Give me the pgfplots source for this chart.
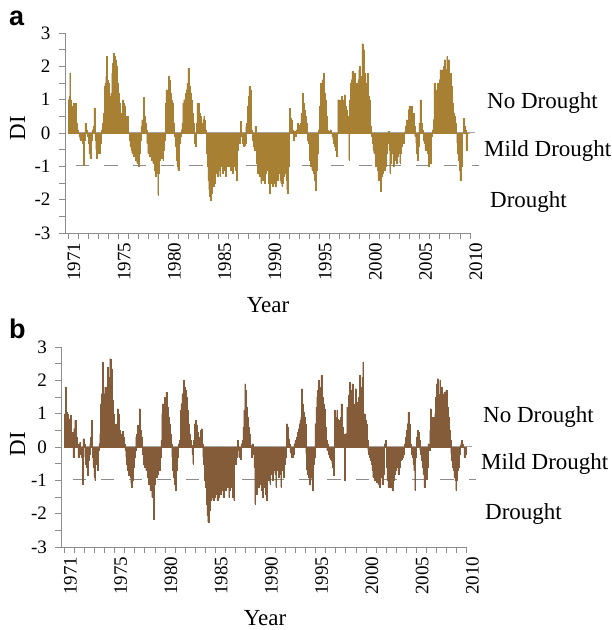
\documentclass[border=0pt]{standalone}
\usepackage{fontspec}
\setmainfont{Liberation Serif}
\newfontfamily\sansb{Liberation Sans}
\usepackage{pgfplots}
\pgfplotsset{compat=1.18}
\usepackage{pgfplotstable}

\definecolor{barA}{RGB}{136,98,26}
\definecolor{edgeA}{RGB}{168,128,52}
\definecolor{barB}{RGB}{100,60,27}
\definecolor{edgeB}{RGB}{132,92,58}
\definecolor{axgray}{RGB}{140,140,140}

% Panel a: monthly DI values, one line per year (12 months)
\pgfplotstableread[row sep=\\]{v\\
1.0\\ 1.1\\ 1.8\\ 1.0\\ 0.5\\ 0.8\\ 0.9\\ 0.4\\ 0.9\\ 0.6\\ 0.3\\ 0.1\\
0.0\\ -0.1\\ -0.2\\ -0.1\\ -0.2\\ -0.3\\ -0.97\\ -0.2\\ 0.3\\ 0.2\\ 0.1\\ -0.1\\
-0.3\\ -0.6\\ -0.75\\ -0.4\\ -0.2\\ 0.1\\ 0.2\\ 0.75\\ -0.2\\ -0.5\\ -0.75\\ -0.5\\
-0.6\\ -0.6\\ -0.3\\ -0.1\\ 0.1\\ 0.3\\ 0.6\\ 1.4\\ 1.5\\ 1.7\\ 2.3\\ 1.6\\
1.5\\ 1.1\\ 0.9\\ 1.2\\ 1.8\\ 2.1\\ 2.4\\ 2.3\\ 2.2\\ 1.5\\ 2.0\\ 1.5\\
1.2\\ 0.9\\ 0.6\\ 0.3\\ 0.5\\ 1.0\\ 0.9\\ 0.8\\ 0.5\\ 0.2\\ 0.3\\ 0.5\\
0.0\\ -0.2\\ -0.4\\ -0.5\\ -0.6\\ -0.4\\ -0.7\\ -0.5\\ -0.8\\ -0.6\\ -0.9\\ -0.7\\
-1.0\\ -0.6\\ -0.2\\ 0.2\\ 0.4\\ 0.3\\ 1.08\\ 0.5\\ 0.3\\ 0.1\\ -0.3\\ -0.6\\
-0.4\\ -0.7\\ -0.5\\ -0.8\\ -0.6\\ -0.9\\ -0.7\\ -1.1\\ -1.3\\ -0.9\\ -1.2\\ -1.85\\
-1.2\\ -0.8\\ -0.6\\ -0.75\\ -0.5\\ -0.8\\ -0.5\\ -0.2\\ 0.9\\ 1.3\\ 1.2\\ 1.0\\
1.7\\ 1.6\\ 1.2\\ 1.0\\ 0.9\\ 0.7\\ 0.3\\ -0.1\\ -0.4\\ -0.8\\ -1.0\\ -1.1\\
-0.8\\ -0.3\\ -0.1\\ 0.1\\ 0.3\\ 0.9\\ 1.0\\ 1.0\\ 1.2\\ 1.3\\ 1.5\\ 1.95\\
1.7\\ 1.4\\ 1.2\\ 1.0\\ 0.6\\ 0.3\\ 0.1\\ -0.3\\ -0.4\\ 0.3\\ 0.9\\ 0.9\\
0.9\\ 0.6\\ 0.5\\ 0.3\\ 0.2\\ 0.4\\ 0.5\\ 0.4\\ 0.1\\ -0.6\\ -1.0\\ -1.4\\
-1.7\\ -1.9\\ -2.0\\ -1.8\\ -1.5\\ -1.6\\ -1.3\\ -1.5\\ -1.2\\ -1.0\\ -1.3\\ -1.1\\
-1.1\\ -1.3\\ -0.8\\ -1.0\\ -1.2\\ -0.7\\ -1.1\\ -0.9\\ -1.3\\ -1.0\\ -0.6\\ -1.0\\
-0.9\\ -0.7\\ -1.1\\ -0.8\\ -1.2\\ -0.6\\ -1.0\\ -0.8\\ -1.1\\ -1.4\\ -0.5\\ -0.2\\
-0.3\\ 0.0\\ 0.35\\ -0.1\\ -0.3\\ -0.4\\ -0.35\\ -0.3\\ 0.2\\ 0.3\\ 0.8\\ 1.1\\
1.4\\ 1.3\\ 0.6\\ 0.1\\ -0.2\\ -0.4\\ -0.5\\ 0.2\\ -0.3\\ -0.9\\ -1.2\\ -1.0\\
-1.3\\ -0.9\\ -1.5\\ -1.1\\ -1.4\\ -1.2\\ -1.5\\ -1.0\\ -1.2\\ -0.9\\ -1.1\\ -1.5\\
-1.8\\ -1.3\\ -1.5\\ -1.1\\ -1.6\\ -1.2\\ -1.5\\ -1.6\\ -1.3\\ -1.1\\ -1.4\\ -1.2\\
-1.2\\ -1.4\\ -1.5\\ -1.6\\ -1.5\\ -1.3\\ -1.2\\ -1.1\\ -1.4\\ -1.7\\ -1.8\\ -1.0\\
0.75\\ 0.45\\ 0.4\\ 0.35\\ 0.1\\ -0.2\\ 0.05\\ -0.1\\ 0.1\\ 0.05\\ 0.3\\ 0.25\\
0.1\\ 0.3\\ 0.6\\ 0.5\\ 1.2\\ 0.9\\ 0.7\\ 0.5\\ 0.3\\ 0.1\\ -0.2\\ -0.3\\
-0.8\\ -1.0\\ -0.9\\ -1.1\\ -0.8\\ -1.2\\ -1.4\\ -1.7\\ -1.1\\ -0.6\\ -0.2\\ 0.1\\
0.8\\ 1.5\\ 1.2\\ 1.6\\ 1.3\\ 1.8\\ 1.2\\ 1.0\\ 0.5\\ 0.1\\ 0.0\\ 0.05\\
0.05\\ 0.1\\ 0.0\\ -0.1\\ -0.2\\ -0.3\\ -0.4\\ -0.5\\ -0.7\\ 0.0\\ 1.0\\ 0.8\\
1.0\\ 0.8\\ 1.1\\ 0.9\\ 0.85\\ 1.0\\ 1.15\\ 0.8\\ 0.7\\ 0.5\\ 0.3\\ -0.8\\
1.0\\ 1.5\\ 1.6\\ 1.85\\ 1.3\\ 1.5\\ 1.8\\ 1.3\\ 1.5\\ 1.4\\ 1.6\\ 1.9\\
2.0\\ 1.5\\ 1.7\\ 2.68\\ 1.6\\ 2.5\\ 1.8\\ 1.3\\ 1.5\\ 1.8\\ 1.1\\ 1.05\\
1.0\\ 0.2\\ -0.1\\ -0.3\\ -0.5\\ -0.6\\ -0.5\\ -1.0\\ -0.9\\ -1.1\\ -1.4\\ -1.3\\
-1.4\\ -1.75\\ -1.3\\ -1.2\\ -0.9\\ -1.1\\ -0.8\\ -1.0\\ -0.6\\ -0.3\\ 0.05\\ -0.5\\
-1.2\\ -0.9\\ -0.6\\ -0.5\\ -1.0\\ -0.8\\ -0.4\\ -0.5\\ -0.9\\ -0.7\\ -0.6\\ -0.4\\
-0.9\\ -0.6\\ -0.4\\ -0.2\\ -0.3\\ 0.0\\ 0.05\\ 0.2\\ 0.4\\ 0.3\\ 0.7\\ 0.8\\
0.4\\ 0.7\\ 0.8\\ 0.3\\ 0.6\\ 0.2\\ -0.1\\ -0.3\\ -0.6\\ -0.8\\ -0.4\\ 0.3\\
1.0\\ 0.6\\ 0.3\\ 0.1\\ -0.2\\ -0.3\\ -0.5\\ -0.3\\ -0.4\\ -0.6\\ -1.0\\ -0.8\\
-0.9\\ -0.8\\ -0.1\\ 0.1\\ 0.4\\ 1.5\\ 1.3\\ 1.2\\ 1.3\\ 1.5\\ 1.0\\ 1.6\\
1.9\\ 1.5\\ 1.6\\ 1.9\\ 2.0\\ 2.2\\ 1.6\\ 1.9\\ 2.3\\ 2.1\\ 2.2\\ 1.8\\
1.8\\ 1.4\\ 1.0\\ 0.9\\ 0.6\\ 0.5\\ 0.3\\ 0.0\\ -0.3\\ -0.6\\ -0.8\\ -1.1\\
-1.4\\ -1.0\\ -0.6\\ 0.0\\ 0.45\\ 0.2\\ 0.1\\ -0.5\\ -0.2\\ 0.0\\ 0.0\\ 0.0\\
}\dataA

% Panel b: monthly DI values, one line per year (12 months)
\pgfplotstableread[row sep=\\]{v\\
1.0\\ 1.8\\ 1.05\\ 1.0\\ 0.45\\ 0.4\\ 0.85\\ 0.95\\ 0.4\\ 0.45\\ -0.3\\ 0.55\\
0.8\\ 0.8\\ 0.3\\ 0.1\\ -0.3\\ 0.1\\ 0.15\\ -0.2\\ -0.3\\ -1.1\\ 0.25\\ 0.1\\
-0.3\\ -0.5\\ -0.6\\ -0.85\\ -0.4\\ -0.2\\ 0.1\\ 0.3\\ 0.8\\ -0.3\\ -0.6\\ -0.9\\
-1.0\\ -0.5\\ -0.4\\ -0.7\\ -0.1\\ 0.1\\ 0.4\\ 1.3\\ 1.6\\ 2.55\\ 1.5\\ 1.6\\
1.8\\ 1.0\\ 1.5\\ 2.4\\ 1.2\\ 2.1\\ 2.65\\ 2.5\\ 2.35\\ 1.4\\ 1.0\\ 0.7\\
0.5\\ 0.4\\ 0.7\\ 1.15\\ 1.0\\ 0.5\\ 0.3\\ 0.4\\ 0.2\\ 0.48\\ 0.3\\ 0.1\\
-0.1\\ -0.3\\ -0.5\\ -0.7\\ -0.85\\ -0.6\\ -0.9\\ -1.1\\ -1.2\\ -1.0\\ -0.6\\ -0.3\\
-0.1\\ 0.3\\ 0.4\\ 0.65\\ 0.3\\ 1.15\\ 0.5\\ 0.3\\ 0.1\\ -0.2\\ -0.5\\ -0.6\\
-0.4\\ -0.7\\ -0.5\\ -0.9\\ -1.1\\ -0.7\\ -1.3\\ -1.0\\ -1.5\\ -0.9\\ -2.15\\ -1.1\\
-0.7\\ -0.9\\ -0.6\\ -0.8\\ -0.5\\ -0.7\\ -0.3\\ 0.2\\ 1.0\\ 1.3\\ 1.2\\ 1.5\\
1.3\\ 1.65\\ 1.4\\ 1.2\\ 0.9\\ 0.7\\ 0.4\\ 0.1\\ -0.3\\ -0.7\\ -0.9\\ -1.1\\
-1.3\\ -0.7\\ -0.3\\ -0.1\\ 0.1\\ 0.2\\ 1.1\\ 1.3\\ 1.6\\ 1.6\\ 2.0\\ 1.8\\
1.7\\ 1.5\\ 1.1\\ 1.0\\ 0.7\\ 0.4\\ 0.2\\ 0.05\\ -0.2\\ -0.5\\ 0.2\\ 0.7\\
0.8\\ 0.65\\ 0.45\\ 0.4\\ 0.2\\ 0.3\\ 0.5\\ 0.55\\ 0.1\\ -0.3\\ -0.5\\ -1.0\\
-1.2\\ -1.7\\ -2.05\\ -2.25\\ -1.6\\ -1.9\\ -1.6\\ -1.5\\ -1.3\\ -1.6\\ -1.2\\ -1.5\\
-1.1\\ -1.4\\ -1.6\\ -1.2\\ -1.5\\ -1.1\\ -1.4\\ -1.3\\ -1.0\\ -1.5\\ -1.2\\ -1.1\\
-1.3\\ -1.0\\ -1.2\\ -0.9\\ -1.5\\ -1.3\\ -1.1\\ -1.2\\ -1.5\\ -0.9\\ -1.6\\ -0.5\\
-0.5\\ -0.3\\ 0.2\\ -0.1\\ -0.3\\ -0.1\\ -0.35\\ 0.1\\ 0.2\\ 0.6\\ 1.1\\ 1.9\\
1.7\\ 1.2\\ 0.9\\ 0.6\\ 0.4\\ 0.2\\ 0.05\\ -0.3\\ 0.1\\ -0.2\\ -0.6\\ -1.7\\
-1.0\\ -1.4\\ -0.9\\ -1.2\\ -1.1\\ -1.0\\ -0.8\\ -1.3\\ -1.5\\ -1.2\\ -0.9\\ -1.0\\
-1.4\\ -1.6\\ -0.8\\ -1.0\\ -0.5\\ -1.1\\ -0.7\\ -0.8\\ -1.0\\ -0.7\\ -0.5\\ -0.8\\
-1.2\\ -0.6\\ -0.7\\ -0.9\\ -0.8\\ -0.4\\ -1.2\\ -0.6\\ -0.7\\ -0.9\\ -0.5\\ -0.3\\
-0.2\\ 0.7\\ 0.6\\ 0.25\\ 0.1\\ -0.15\\ -0.2\\ -0.3\\ -0.3\\ -0.2\\ 0.1\\ 0.2\\
0.2\\ 0.3\\ 0.45\\ 0.55\\ 0.7\\ 0.8\\ 0.9\\ 1.75\\ 1.3\\ 1.05\\ 0.9\\ 0.7\\
-0.2\\ -0.65\\ -0.8\\ -0.9\\ -1.1\\ -0.9\\ -0.7\\ -1.0\\ -1.3\\ -0.5\\ -0.3\\ 0.7\\
1.2\\ 1.5\\ 1.7\\ 2.0\\ 1.8\\ 1.6\\ 2.15\\ 1.7\\ 1.5\\ 1.3\\ 1.15\\ 0.6\\
0.2\\ -0.1\\ 0.1\\ -0.2\\ -0.3\\ -0.35\\ -0.4\\ -0.5\\ -0.6\\ -0.85\\ 1.1\\ 0.7\\
0.9\\ 1.1\\ 0.85\\ 0.8\\ 0.75\\ 0.9\\ 1.3\\ 0.6\\ 0.5\\ 0.4\\ -1.0\\ 0.4\\
0.4\\ 1.2\\ 1.0\\ 1.55\\ 1.95\\ 1.7\\ 1.6\\ 1.9\\ 1.5\\ 1.3\\ 1.1\\ 1.75\\
1.35\\ 1.05\\ 1.3\\ 1.5\\ 2.15\\ 1.8\\ 1.1\\ 2.1\\ 2.55\\ 1.0\\ 1.0\\ 0.8\\
0.7\\ 0.2\\ -0.1\\ -0.2\\ -0.3\\ -0.4\\ -0.5\\ -0.7\\ -0.9\\ -0.8\\ -1.0\\ -0.9\\
-1.05\\ -0.9\\ -1.1\\ -1.0\\ -1.2\\ -0.7\\ -0.9\\ -1.1\\ -0.8\\ -0.3\\ 0.1\\ 0.2\\
-0.6\\ -1.0\\ -1.2\\ -0.9\\ -1.1\\ -1.2\\ -1.0\\ -1.3\\ -1.0\\ -0.9\\ -0.8\\ -0.7\\
-0.6\\ -0.5\\ -0.8\\ -0.7\\ -0.6\\ -0.4\\ -0.35\\ -0.3\\ -0.2\\ -0.1\\ 0.1\\ 0.3\\
0.5\\ 0.7\\ 1.05\\ 0.7\\ 0.4\\ 0.1\\ -0.2\\ -0.3\\ -0.5\\ -0.7\\ -1.3\\ -0.3\\
0.3\\ 0.5\\ 0.45\\ 0.2\\ -0.1\\ -0.2\\ -0.4\\ -0.6\\ -0.8\\ -1.2\\ -0.7\\ -0.5\\
-0.95\\ -0.6\\ 0.1\\ -0.1\\ 0.5\\ 1.15\\ 0.9\\ 0.85\\ 0.9\\ 0.6\\ 1.0\\ 1.5\\
1.9\\ 2.05\\ 1.6\\ 1.5\\ 2.0\\ 1.8\\ 1.8\\ 1.6\\ 1.5\\ 1.65\\ 1.4\\ 1.7\\
1.7\\ 1.2\\ 0.9\\ 0.5\\ 0.2\\ -0.2\\ -0.4\\ -0.6\\ -0.7\\ -0.9\\ -1.0\\ -1.3\\
-1.0\\ -0.7\\ -0.6\\ -0.2\\ 0.05\\ 0.1\\ 0.2\\ 0.1\\ 0.0\\ -0.3\\ -0.2\\ 0.0\\
}\dataB

\pgfplotsset{
  diaxis/.style={
    scale only axis, width=405pt, height=200pt,
    xmin=-0.3, xmax=40, ymin=-3, ymax=3,
    axis x line*=bottom, axis y line*=left,
    axis line style={draw=axgray, line width=0.9pt, -},
    every tick/.style={draw=axgray, line width=0.9pt},
    tick align=outside, major tick length=6pt, minor tick length=6pt,
    xtick={0,5,...,40},
    xticklabels={1971,1975,1980,1985,1990,1995,2000,2005,2010},
    minor xtick={0,1,...,40},
    ytick={-3,-2,...,3},
    yticklabels={-3,-2,-1,0,1,2,3},
    minor ytick={-2.5,-1.5,...,2.5},
    x tick label style={rotate=90, anchor=east, yshift=-6pt,
      font=\fontsize{19}{19}\selectfont},
    y tick label style={xshift=-5pt, font=\fontsize{19}{19}\selectfont},
    clip=false,
  },
}

\begin{document}
\begin{tikzpicture}
\path[use as bounding box] (0,0) rectangle (612pt,-630pt);

% ---------------- panel a ----------------
\begin{axis}[diaxis, at={(65pt,-233pt)}, anchor=south west]
  \draw[axgray!80, line width=0.9pt] (axis cs:0,0.02) -- (axis cs:40.5,0.02);
  \draw[axgray, line width=0.9pt, dash pattern=on 13.3pt off 15pt]
    (axis cs:0.8,-0.97) -- (axis cs:40.9,-0.97);
  \addplot[ybar, bar width=0.0833, fill=barA, draw=edgeA, line width=0.1pt]
    table[x expr={(\coordindex+0.5)/12}, y=v] {\dataA};
\end{axis}

% ---------------- panel b ----------------
\begin{axis}[diaxis, at={(61.5pt,-547pt)}, anchor=south west]
  \draw[axgray!80, line width=0.9pt] (axis cs:0,0.02) -- (axis cs:40.5,0.02);
  \draw[axgray, line width=0.9pt, dash pattern=on 13.3pt off 15pt]
    (axis cs:0.8,-0.97) -- (axis cs:40.9,-0.97);
  \addplot[ybar, bar width=0.0833, fill=barB, draw=edgeB, line width=0.1pt]
    table[x expr={(\coordindex+0.5)/12}, y=v] {\dataB};
\end{axis}

% ---------------- texts ----------------
\def\lab{\fontsize{23}{23}\selectfont}
\node[font=\sansb\bfseries\fontsize{27}{27}\selectfont, anchor=base west, inner sep=0pt] at (9pt,-25pt) {a};
\node[font=\sansb\bfseries\fontsize{27}{27}\selectfont, anchor=base west, inner sep=0pt] at (9pt,-338pt) {b};

\node[font=\lab, rotate=90, anchor=base, inner sep=0pt] at (25pt,-128pt) {DI};
\node[font=\lab, rotate=90, anchor=base, inner sep=0pt] at (25pt,-444pt) {DI};

\node[font=\lab, anchor=base, inner sep=0pt] at (268pt,-312pt) {Year};
\node[font=\lab, anchor=base, inner sep=0pt] at (265pt,-625pt) {Year};

\node[font=\lab, anchor=base west, inner sep=0pt] at (487pt,-108pt) {No Drought};
\node[font=\lab, anchor=base west, inner sep=0pt] at (484pt,-156pt) {Mild Drought};
\node[font=\lab, anchor=base west, inner sep=0pt] at (490pt,-207pt) {Drought};

\node[font=\lab, anchor=base west, inner sep=0pt] at (483pt,-422pt) {No Drought};
\node[font=\lab, anchor=base west, inner sep=0pt] at (481pt,-469pt) {Mild Drought};
\node[font=\lab, anchor=base west, inner sep=0pt] at (485pt,-519pt) {Drought};
\end{tikzpicture}
\end{document}
